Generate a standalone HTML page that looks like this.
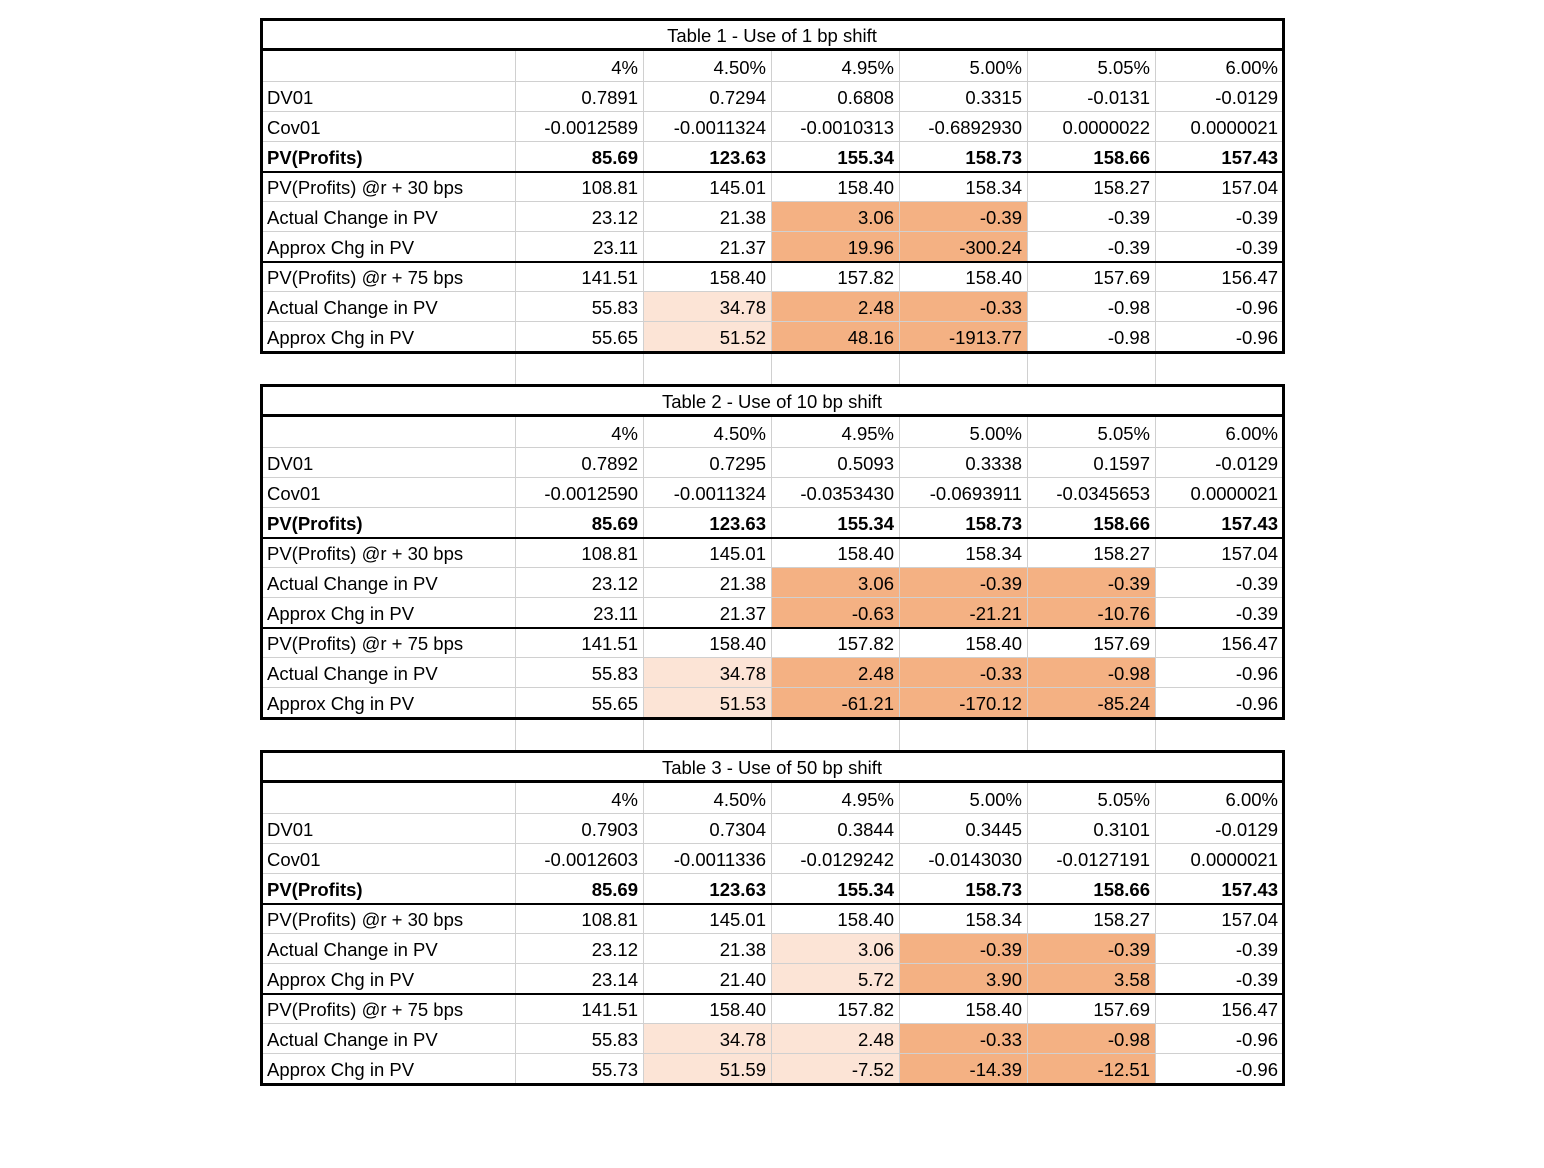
<!DOCTYPE html><html><head><meta charset="utf-8"><style>
body{margin:0;width:1544px;height:1168px;background:#fff;position:relative;overflow:hidden;font-family:"Liberation Sans",Arial,sans-serif;}
.c{position:absolute;box-sizing:border-box;font-size:18.5px;line-height:34px;white-space:nowrap;color:#000;}
.l{position:absolute;}
</style></head><body><div id="r"></div><script>
var X=[261,515,643,771,899,1027,1155,1283];
var labels=["","DV01","Cov01","PV(Profits)","PV(Profits) @r + 30 bps","Actual Change in PV","Approx Chg in PV","PV(Profits) @r + 75 bps","Actual Change in PV","Approx Chg in PV"];
var T=[
{t:"Table 1 - Use of 1 bp shift",d:[
["0.7891","0.7294","0.6808","0.3315","-0.0131","-0.0129"],
["-0.0012589","-0.0011324","-0.0010313","-0.6892930","0.0000022","0.0000021"],
["85.69","123.63","155.34","158.73","158.66","157.43"],
["108.81","145.01","158.40","158.34","158.27","157.04"],
["23.12","21.38","3.06","-0.39","-0.39","-0.39"],
["23.11","21.37","19.96","-300.24","-0.39","-0.39"],
["141.51","158.40","157.82","158.40","157.69","156.47"],
["55.83","34.78","2.48","-0.33","-0.98","-0.96"],
["55.65","51.52","48.16","-1913.77","-0.98","-0.96"]],
h:{5:{3:2,4:2},6:{3:2,4:2},8:{2:1,3:2,4:2},9:{2:1,3:2,4:2}}},
{t:"Table 2 - Use of 10 bp shift",d:[
["0.7892","0.7295","0.5093","0.3338","0.1597","-0.0129"],
["-0.0012590","-0.0011324","-0.0353430","-0.0693911","-0.0345653","0.0000021"],
["85.69","123.63","155.34","158.73","158.66","157.43"],
["108.81","145.01","158.40","158.34","158.27","157.04"],
["23.12","21.38","3.06","-0.39","-0.39","-0.39"],
["23.11","21.37","-0.63","-21.21","-10.76","-0.39"],
["141.51","158.40","157.82","158.40","157.69","156.47"],
["55.83","34.78","2.48","-0.33","-0.98","-0.96"],
["55.65","51.53","-61.21","-170.12","-85.24","-0.96"]],
h:{5:{3:2,4:2,5:2},6:{3:2,4:2,5:2},8:{2:1,3:2,4:2,5:2},9:{2:1,3:2,4:2,5:2}}},
{t:"Table 3 - Use of 50 bp shift",d:[
["0.7903","0.7304","0.3844","0.3445","0.3101","-0.0129"],
["-0.0012603","-0.0011336","-0.0129242","-0.0143030","-0.0127191","0.0000021"],
["85.69","123.63","155.34","158.73","158.66","157.43"],
["108.81","145.01","158.40","158.34","158.27","157.04"],
["23.12","21.38","3.06","-0.39","-0.39","-0.39"],
["23.14","21.40","5.72","3.90","3.58","-0.39"],
["141.51","158.40","157.82","158.40","157.69","156.47"],
["55.83","34.78","2.48","-0.33","-0.98","-0.96"],
["55.73","51.59","-7.52","-14.39","-12.51","-0.96"]],
h:{5:{3:1,4:2,5:2},6:{3:1,4:2,5:2},8:{2:1,3:1,4:2,5:2},9:{2:1,3:1,4:2,5:2}}}];
var hdr=["4%","4.50%","4.95%","5.00%","5.05%","6.00%"];
var s="";
function L(x,y,w,h,c){s+='<div class="l" style="left:'+x+'px;top:'+y+'px;width:'+w+'px;height:'+h+'px;background:'+c+'"></div>';}
function C(x,y,w,txt,al,b,bg){s+='<div class="c" style="left:'+x+'px;top:'+y+'px;width:'+w+'px;height:30px;text-align:'+al+';padding:0 5px;'+(b?'font-weight:bold;':'')+(bg?'background:'+bg+';':'')+'">'+txt+'</div>';}
var G="#d0d0d0";
T.forEach(function(tb,t){
 var B=18+366*t;
 var top=B+33;
 for(var i=0;i<10;i++){
  var y=top+30*i;
  C(X[0]+1,y,X[1]-X[0]-1,labels[i],"left",i==3);
  for(var j=1;j<=6;j++){
   var txt=i==0?hdr[j-1]:tb.d[i-1][j-1];
   var hv=tb.h[i]&&tb.h[i][j];
   var bg=hv==2?"#f4b183":hv==1?"#fce4d6":"";
   C(X[j],y,X[j+1]-X[j],txt,"right",i==3,bg);
  }
 }
 for(var i=1;i<10;i++){L(X[0],top+30*i,X[7]-X[0],1,G);}
 for(var j=1;j<7;j++){L(X[j],top,1,300,G);if(t<2)L(X[j],top+303,1,30,G);}
 L(X[0]-1,B,X[7]-X[0]+3,3,"#000");
 L(X[0]-1,B+30,X[7]-X[0]+3,3,"#000");
 L(X[0]-1,top+120,X[7]-X[0]+3,2,"#000");
 L(X[0]-1,top+210,X[7]-X[0]+3,2,"#000");
 L(X[0]-1,top+300,X[7]-X[0]+3,3,"#000");
 L(X[0]-1,B,3,336,"#000");
 L(X[7]-1,B,3,336,"#000");
 s+='<div class="c" style="left:'+X[0]+'px;top:'+(B+3)+'px;width:'+(X[7]-X[0])+'px;height:27px;line-height:30px;text-align:center;">'+tb.t+'</div>';
});
document.getElementById("r").innerHTML=s;
</script></body></html>
